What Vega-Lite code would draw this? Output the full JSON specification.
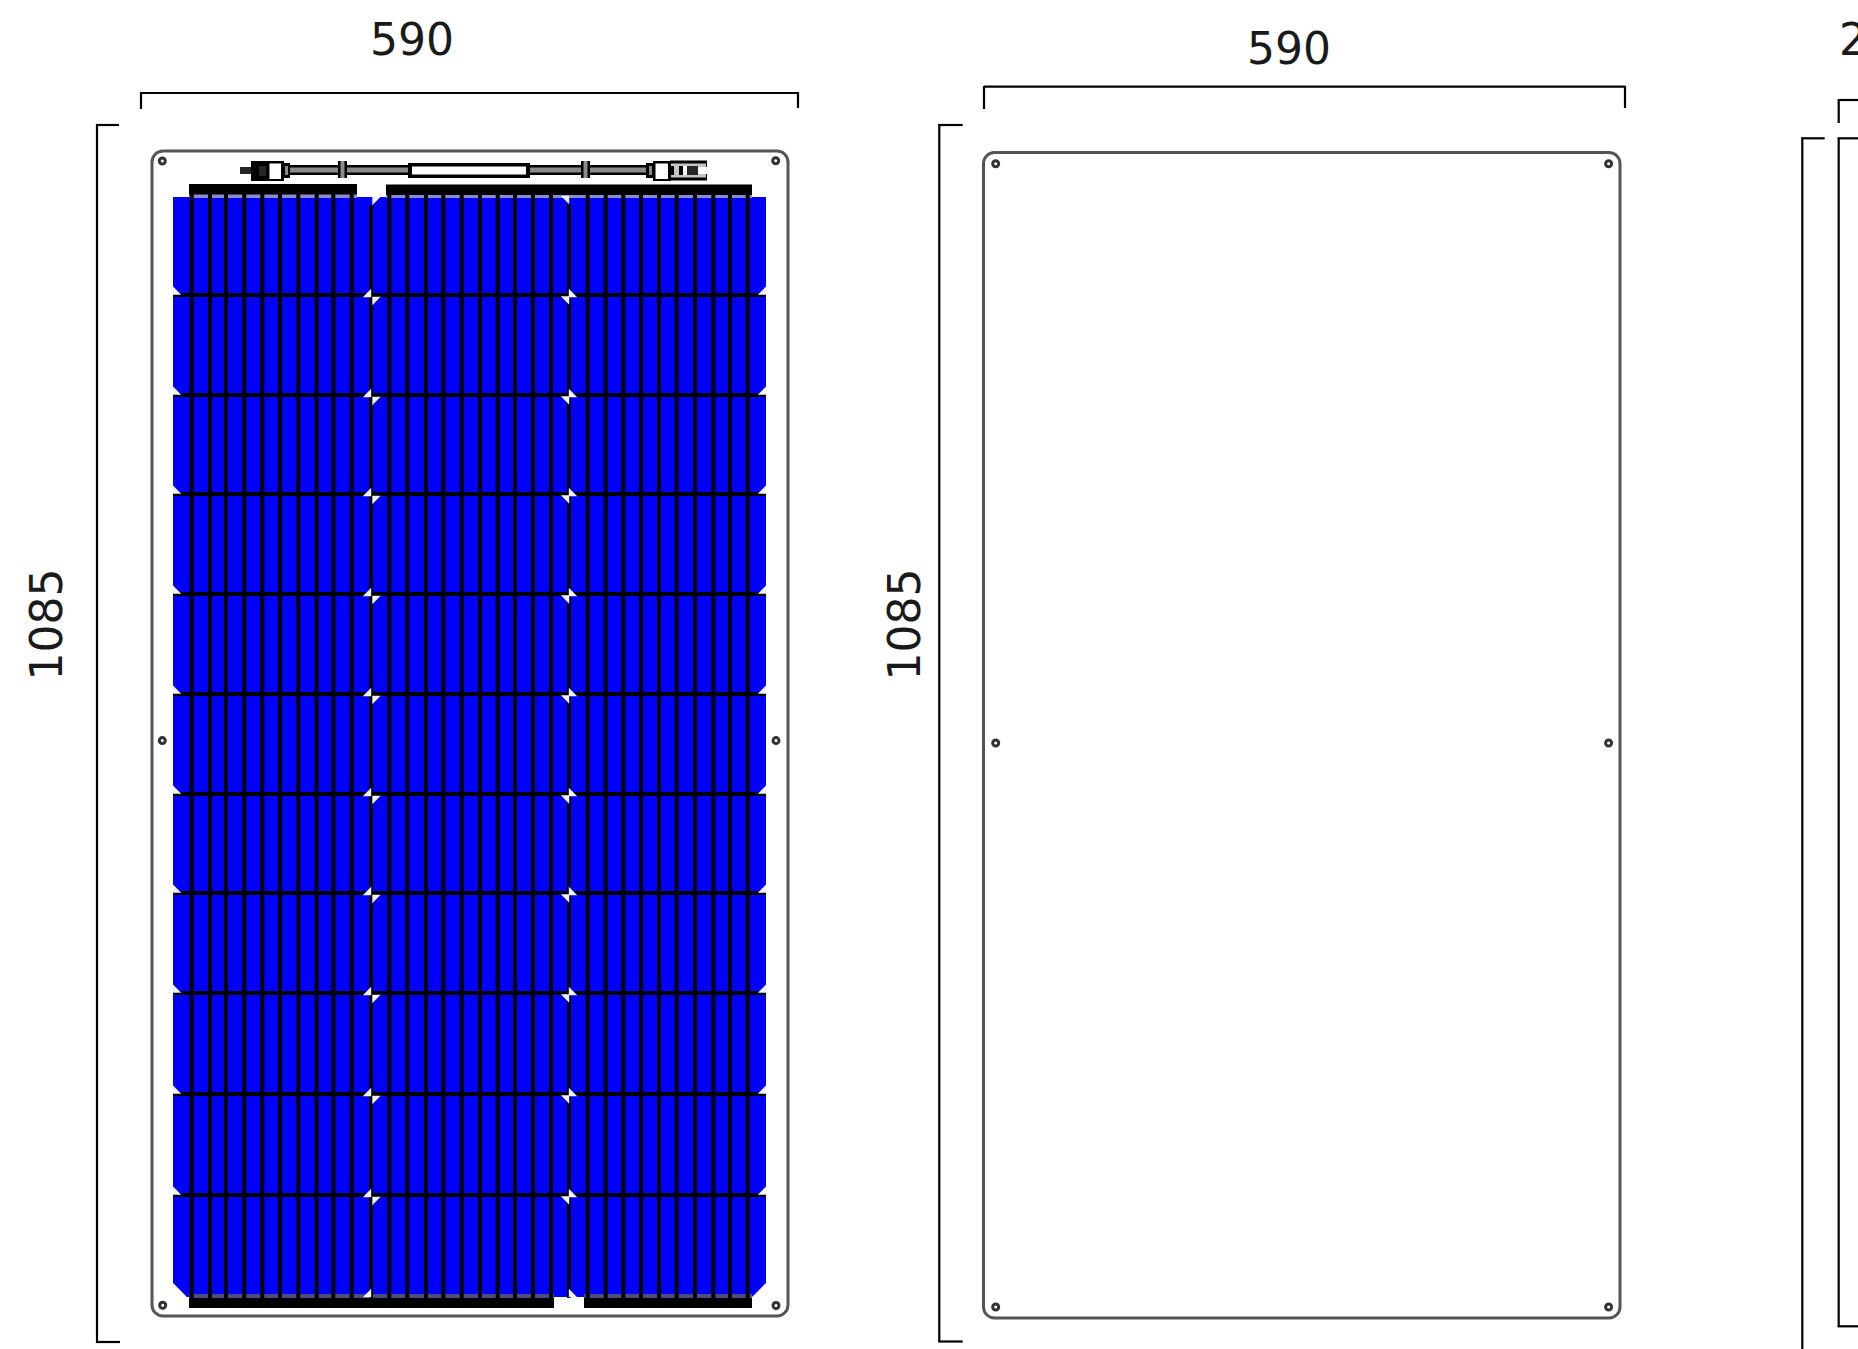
{"$schema":"https://vega.github.io/schema/vega-lite/v6.json","width":1858,"height":1349,"padding":0,"autosize":{"type":"none"},"background":"white","config":{"view":{"stroke":null}},
"datasets":{
"panels":[{"x":152,"x2":788,"y":151,"y2":1316},{"x":983.5,"x2":1620,"y":152.5,"y2":1318}],
"cells":[
{"x":173,"x2":371,"y":197,"y2":295,"part":"cell"},{"x":371,"x2":569,"y":197,"y2":295,"part":"cell"},{"x":569,"x2":766,"y":197,"y2":295,"part":"cell"},
{"x":173,"x2":371,"y":295,"y2":395,"part":"cell"},{"x":371,"x2":569,"y":295,"y2":395,"part":"cell"},{"x":569,"x2":766,"y":295,"y2":395,"part":"cell"},
{"x":173,"x2":371,"y":395,"y2":494,"part":"cell"},{"x":371,"x2":569,"y":395,"y2":494,"part":"cell"},{"x":569,"x2":766,"y":395,"y2":494,"part":"cell"},
{"x":173,"x2":371,"y":494,"y2":594,"part":"cell"},{"x":371,"x2":569,"y":494,"y2":594,"part":"cell"},{"x":569,"x2":766,"y":494,"y2":594,"part":"cell"},
{"x":173,"x2":371,"y":594,"y2":694,"part":"cell"},{"x":371,"x2":569,"y":594,"y2":694,"part":"cell"},{"x":569,"x2":766,"y":594,"y2":694,"part":"cell"},
{"x":173,"x2":371,"y":694,"y2":794,"part":"cell"},{"x":371,"x2":569,"y":694,"y2":794,"part":"cell"},{"x":569,"x2":766,"y":694,"y2":794,"part":"cell"},
{"x":173,"x2":371,"y":794,"y2":893,"part":"cell"},{"x":371,"x2":569,"y":794,"y2":893,"part":"cell"},{"x":569,"x2":766,"y":794,"y2":893,"part":"cell"},
{"x":173,"x2":371,"y":893,"y2":993,"part":"cell"},{"x":371,"x2":569,"y":893,"y2":993,"part":"cell"},{"x":569,"x2":766,"y":893,"y2":993,"part":"cell"},
{"x":173,"x2":371,"y":993,"y2":1094,"part":"cell"},{"x":371,"x2":569,"y":993,"y2":1094,"part":"cell"},{"x":569,"x2":766,"y":993,"y2":1094,"part":"cell"},
{"x":173,"x2":371,"y":1094,"y2":1195,"part":"cell"},{"x":371,"x2":569,"y":1094,"y2":1195,"part":"cell"},{"x":569,"x2":766,"y":1094,"y2":1195,"part":"cell"},
{"x":173,"x2":371,"y":1195,"y2":1297,"part":"cell"},{"x":371,"x2":569,"y":1195,"y2":1297,"part":"cell"},{"x":569,"x2":766,"y":1195,"y2":1297,"part":"cell"},
{"x":189,"x2":357,"y":194,"y2":198,"part":"striptop"},{"x":386,"x2":752,"y":194,"y2":198,"part":"striptop"},
{"x":189,"x2":554,"y":1294,"y2":1298,"part":"stripbottom"},{"x":584,"x2":752,"y":1294,"y2":1298,"part":"stripbottom"}
],
"grid":[
{"x":191.7,"x2":191.7,"y":194,"y2":1298},{"x":210,"x2":210,"y":194,"y2":1298},{"x":226,"x2":226,"y":194,"y2":1298},{"x":244.3,"x2":244.3,"y":194,"y2":1298},{"x":262.3,"x2":262.3,"y":194,"y2":1298},{"x":280,"x2":280,"y":194,"y2":1298},{"x":298.3,"x2":298.3,"y":194,"y2":1298},{"x":316.7,"x2":316.7,"y":194,"y2":1298},{"x":333.3,"x2":333.3,"y":194,"y2":1298},{"x":351.7,"x2":351.7,"y":194,"y2":1298},
{"x":371,"x2":371,"y":205,"y2":1298},
{"x":389.3,"x2":389.3,"y":194,"y2":1298},{"x":407.3,"x2":407.3,"y":194,"y2":1298},{"x":426,"x2":426,"y":194,"y2":1298},{"x":443.3,"x2":443.3,"y":194,"y2":1298},{"x":461.7,"x2":461.7,"y":194,"y2":1298},{"x":480,"x2":480,"y":194,"y2":1298},{"x":497.7,"x2":497.7,"y":194,"y2":1298},{"x":515,"x2":515,"y":194,"y2":1298},{"x":533,"x2":533,"y":194,"y2":1298},{"x":551,"x2":551,"y":194,"y2":1298},
{"x":569,"x2":569,"y":204,"y2":1298},
{"x":587.7,"x2":587.7,"y":194,"y2":1298},{"x":605.7,"x2":605.7,"y":194,"y2":1298},{"x":623.3,"x2":623.3,"y":194,"y2":1298},{"x":641,"x2":641,"y":194,"y2":1298},{"x":659,"x2":659,"y":194,"y2":1298},{"x":676.7,"x2":676.7,"y":194,"y2":1298},{"x":695,"x2":695,"y":194,"y2":1298},{"x":713.3,"x2":713.3,"y":194,"y2":1298},{"x":730,"x2":730,"y":194,"y2":1298},{"x":747.7,"x2":747.7,"y":194,"y2":1298},
{"x":173,"x2":766,"y":295,"y2":295},{"x":173,"x2":766,"y":395,"y2":395},{"x":173,"x2":766,"y":494,"y2":494},{"x":173,"x2":766,"y":594,"y2":594},{"x":173,"x2":766,"y":694,"y2":694},{"x":173,"x2":766,"y":794,"y2":794},{"x":173,"x2":766,"y":893,"y2":893},{"x":173,"x2":766,"y":993,"y2":993},{"x":173,"x2":766,"y":1094,"y2":1094},{"x":173,"x2":766,"y":1195,"y2":1195}
],
"details":[
{"x":189,"x2":357,"y":184,"y2":194.5,"part":"black"},{"x":386,"x2":752,"y":184.5,"y2":195,"part":"black"},
{"x":189,"x2":554,"y":1298,"y2":1308,"part":"black"},{"x":584,"x2":752,"y":1298,"y2":1308,"part":"black"},
{"x":290,"x2":408,"y":165,"y2":175,"part":"black"},{"x":290,"x2":408,"y":167.5,"y2":172.5,"part":"core"},
{"x":530,"x2":647,"y":165,"y2":175,"part":"black"},{"x":530,"x2":647,"y":167.5,"y2":172.5,"part":"core"},
{"x":338,"x2":347,"y":161,"y2":178,"part":"black"},{"x":340.5,"x2":344.5,"y":161,"y2":178,"part":"core"},
{"x":581,"x2":590,"y":161,"y2":178,"part":"black"},{"x":583.5,"x2":587.5,"y":161,"y2":178,"part":"core"},
{"x":408,"x2":530,"y":163,"y2":178,"part":"black"},{"x":412,"x2":526,"y":166.5,"y2":174.5,"part":"white"},
{"x":240,"x2":251,"y":167,"y2":174,"part":"dark"},{"x":251,"x2":268,"y":161,"y2":181,"part":"black"},{"x":259,"x2":266,"y":166,"y2":176,"part":"dark"},
{"x":268,"x2":284,"y":161,"y2":181,"part":"black"},{"x":269.5,"x2":281,"y":163.5,"y2":179,"part":"white"},{"x":284,"x2":290,"y":163,"y2":178,"part":"black"},{"x":285,"x2":288,"y":166,"y2":175,"part":"core"},
{"x":646,"x2":653,"y":163,"y2":178,"part":"black"},{"x":649,"x2":652,"y":166,"y2":175,"part":"core"},
{"x":653,"x2":671,"y":161,"y2":181,"part":"black"},{"x":655.5,"x2":668,"y":163.5,"y2":179,"part":"white"},
{"x":670,"x2":707,"y":160.5,"y2":180.5,"part":"black"},{"x":671,"x2":706,"y":163.5,"y2":177.5,"part":"light"},
{"x":671,"x2":674,"y":166,"y2":175,"part":"black"},{"x":674,"x2":679,"y":166,"y2":175,"part":"light"},{"x":679,"x2":683,"y":166,"y2":175,"part":"black"},{"x":683,"x2":687,"y":166,"y2":175,"part":"white"},{"x":687,"x2":698,"y":166,"y2":175,"part":"dark"},{"x":698,"x2":707,"y":167,"y2":174,"part":"white"}
],
"corners":[
{"x":177,"y":290.5,"corner":"bl"},{"x":177,"y":390.5,"corner":"bl"},{"x":177,"y":489.5,"corner":"bl"},{"x":177,"y":589.5,"corner":"bl"},{"x":177,"y":689.5,"corner":"bl"},{"x":177,"y":789.5,"corner":"bl"},{"x":177,"y":888.5,"corner":"bl"},{"x":177,"y":988.5,"corner":"bl"},{"x":177,"y":1089.5,"corner":"bl"},{"x":177,"y":1190.5,"corner":"bl"},
{"x":762,"y":290.5,"corner":"br"},{"x":762,"y":390.5,"corner":"br"},{"x":762,"y":489.5,"corner":"br"},{"x":762,"y":589.5,"corner":"br"},{"x":762,"y":689.5,"corner":"br"},{"x":762,"y":789.5,"corner":"br"},{"x":762,"y":888.5,"corner":"br"},{"x":762,"y":988.5,"corner":"br"},{"x":762,"y":1089.5,"corner":"br"},{"x":762,"y":1190.5,"corner":"br"},
{"x":367,"y":293,"corner":"br"},{"x":367,"y":393,"corner":"br"},{"x":367,"y":492,"corner":"br"},{"x":367,"y":592,"corner":"br"},{"x":367,"y":692,"corner":"br"},{"x":367,"y":792,"corner":"br"},{"x":367,"y":891,"corner":"br"},{"x":367,"y":991,"corner":"br"},{"x":367,"y":1092,"corner":"br"},{"x":367,"y":1193,"corner":"br"},{"x":367,"y":1293,"corner":"br"},
{"x":376.5,"y":201,"corner":"tl"},{"x":376.5,"y":301,"corner":"tl"},{"x":376.5,"y":401,"corner":"tl"},{"x":376.5,"y":500,"corner":"tl"},{"x":376.5,"y":600,"corner":"tl"},{"x":376.5,"y":700,"corner":"tl"},{"x":376.5,"y":800,"corner":"tl"},{"x":376.5,"y":899,"corner":"tl"},{"x":376.5,"y":999,"corner":"tl"},{"x":376.5,"y":1100,"corner":"tl"},{"x":376.5,"y":1201,"corner":"tl"},
{"x":565,"y":200,"corner":"tr"},{"x":565,"y":300.5,"corner":"tr"},{"x":565,"y":400.5,"corner":"tr"},{"x":565,"y":499.5,"corner":"tr"},{"x":565,"y":599.5,"corner":"tr"},{"x":565,"y":699.5,"corner":"tr"},{"x":565,"y":799.5,"corner":"tr"},{"x":565,"y":898.5,"corner":"tr"},{"x":565,"y":998.5,"corner":"tr"},{"x":565,"y":1099.5,"corner":"tr"},{"x":565,"y":1200.5,"corner":"tr"},
{"x":573,"y":293,"corner":"bl"},{"x":573,"y":393,"corner":"bl"},{"x":573,"y":492,"corner":"bl"},{"x":573,"y":592,"corner":"bl"},{"x":573,"y":692,"corner":"bl"},{"x":573,"y":792,"corner":"bl"},{"x":573,"y":891,"corner":"bl"},{"x":573,"y":991,"corner":"bl"},{"x":573,"y":1092,"corner":"bl"},{"x":573,"y":1193,"corner":"bl"},{"x":573,"y":1293,"corner":"bl"}
],
"bigcorners":[{"x":180,"y":1290,"corner":"bl"},{"x":759,"y":1290,"corner":"br"}],
"holes":[
{"x":162.3,"y":161},{"x":775.7,"y":160.7},{"x":162.3,"y":740.6},{"x":776,"y":740.6},{"x":162.7,"y":1305.3},{"x":776,"y":1305.5},
{"x":995.7,"y":163.7},{"x":1608.6,"y":163.7},{"x":995.7,"y":743},{"x":1608.6,"y":743},{"x":995.7,"y":1307},{"x":1608.6,"y":1307}
],
"brackets":[
{"x":141,"x2":798,"y":93,"y2":93},{"x":141,"x2":141,"y":92,"y2":109},{"x":798,"x2":798,"y":92,"y2":108},
{"x":97,"x2":97,"y":124,"y2":1343},{"x":96,"x2":119,"y":125,"y2":125},{"x":96,"x2":120,"y":1342,"y2":1342},
{"x":984,"x2":1625,"y":86.7,"y2":86.7},{"x":984,"x2":984,"y":86,"y2":109},{"x":1625,"x2":1625,"y":86,"y2":108},
{"x":939.3,"x2":939.3,"y":124,"y2":1342},{"x":938.3,"x2":962.7,"y":125,"y2":125},{"x":938.3,"x2":962.7,"y":1341.5,"y2":1341.5},
{"x":1838.7,"x2":1858,"y":100,"y2":100},{"x":1838.7,"x2":1838.7,"y":99,"y2":123},
{"x":1802.3,"x2":1802.3,"y":137.5,"y2":1349},{"x":1801.3,"x2":1824.7,"y":138.3,"y2":138.3},
{"x":1838.7,"x2":1838.7,"y":137.5,"y2":1327},{"x":1837.7,"x2":1858,"y":138.3,"y2":138.3},{"x":1837.7,"x2":1858,"y":1326.3,"y2":1326.3}
],
"labels":[{"x":412,"y":55,"label":"590"},{"x":1289,"y":64,"label":"590"}],
"edgelabels":[{"x":1839,"y":55,"label":"2"}],
"vlabels":[{"x":62,"y":624.5,"label":"1085"},{"x":920,"y":624.5,"label":"1085"}]
},
"encoding":{
"x":{"field":"x","type":"quantitative","scale":{"domain":[0,1858],"nice":false,"zero":false},"axis":null},
"y":{"field":"y","type":"quantitative","scale":{"domain":[0,1349],"nice":false,"zero":false,"reverse":true},"axis":null}
},
"layer":[
{"data":{"name":"panels"},"mark":{"type":"rect","fill":"white","stroke":"#555555","strokeWidth":3,"cornerRadius":11},"encoding":{"x2":{"field":"x2"},"y2":{"field":"y2"}}},
{"data":{"name":"cells"},"mark":{"type":"rect"},"encoding":{"x2":{"field":"x2"},"y2":{"field":"y2"},"color":{"field":"part","type":"nominal","legend":null,"scale":{"domain":["cell","striptop","stripbottom"],"range":["#0000ff","#8c8cc8","#4c4c80"]}}}},
{"data":{"name":"grid"},"mark":{"type":"rule","color":"#000000","strokeWidth":4},"encoding":{"x2":{"field":"x2"},"y2":{"field":"y2"}}},
{"data":{"name":"details"},"mark":{"type":"rect"},"encoding":{"x2":{"field":"x2"},"y2":{"field":"y2"},"fill":{"field":"part","type":"nominal","legend":null,"scale":{"domain":["black","dark","core","light","white"],"range":["#000000","#262626","#8a8a8a","#c4c4c4","#ffffff"]}}}},
{"data":{"name":"corners"},"mark":{"type":"point","filled":true,"size":70,"opacity":1,"color":"#f2f3f8"},"encoding":{"shape":{"field":"corner","type":"nominal","legend":null,"scale":{"domain":["tl","tr","bl","br"],"range":["M-1 -1L1 -1L-1 1Z","M-1 -1L1 -1L1 1Z","M-1 -1L1 1L-1 1Z","M1 -1L1 1L-1 1Z"]}}}},
{"data":{"name":"bigcorners"},"mark":{"type":"point","filled":true,"size":250,"opacity":1,"color":"#ffffff"},"encoding":{"shape":{"field":"corner","type":"nominal","legend":null,"scale":{"domain":["tl","tr","bl","br"],"range":["M-1 -1L1 -1L-1 1Z","M-1 -1L1 -1L1 1Z","M-1 -1L1 1L-1 1Z","M1 -1L1 1L-1 1Z"]}}}},
{"data":{"name":"holes"},"mark":{"type":"point","shape":"circle","filled":false,"size":36,"opacity":1,"stroke":"#333333","strokeWidth":3}},
{"data":{"name":"brackets"},"mark":{"type":"rule","color":"#000000","strokeWidth":2.2},"encoding":{"x2":{"field":"x2"},"y2":{"field":"y2"}}},
{"data":{"name":"labels"},"mark":{"type":"text","font":"DejaVu Sans","fontSize":44,"align":"center","baseline":"alphabetic","color":"#1a1a1a"},"encoding":{"text":{"field":"label"}}},
{"data":{"name":"edgelabels"},"mark":{"type":"text","font":"DejaVu Sans","fontSize":44,"align":"left","baseline":"alphabetic","color":"#1a1a1a"},"encoding":{"text":{"field":"label"}}},
{"data":{"name":"vlabels"},"mark":{"type":"text","font":"DejaVu Sans","fontSize":44,"align":"center","baseline":"alphabetic","angle":270,"color":"#1a1a1a"},"encoding":{"text":{"field":"label"}}}
]}
